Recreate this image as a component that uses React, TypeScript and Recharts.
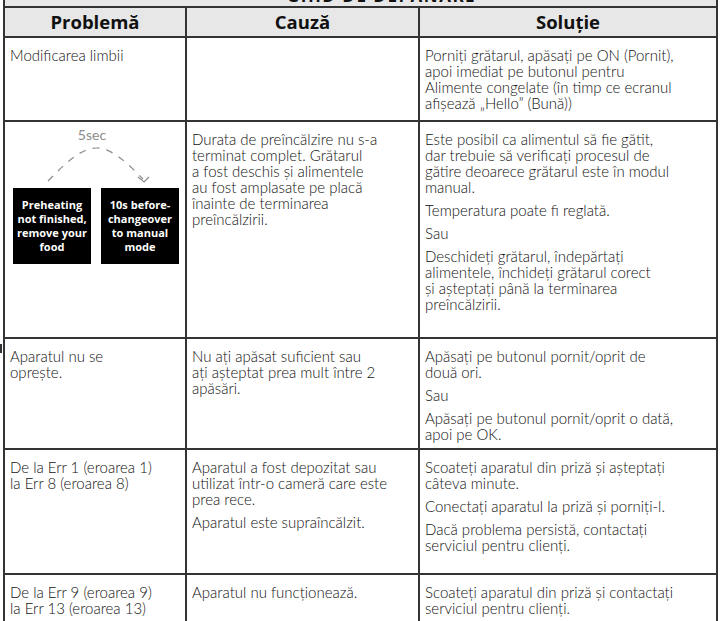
import { Surface, Curve } from 'recharts'

// table content, one entry per row; each cell is a list of paragraphs, each paragraph a list of lines
const title = 'GHID DE DEPANARE'
const columns = ['Problemă', 'Cauză', 'Soluție']

const problems: string[][][] = [
  [['Modificarea limbii']],
  [],
  [['Aparatul nu se', 'oprește.']],
  [['De la Err 1 (eroarea 1)', 'la Err 8 (eroarea 8)']],
  [['De la Err 9 (eroarea 9)', 'la Err 13 (eroarea 13)']]
]

const causes: string[][][] = [
  [],
  [['Durata de preîncălzire nu s-a', 'terminat complet. Grătarul', 'a fost deschis și alimentele', 'au fost amplasate pe placă', 'înainte de terminarea', 'preîncălzirii.']],
  [['Nu ați apăsat suficient sau', 'ați așteptat prea mult între 2', 'apăsări.']],
  [['Aparatul a fost depozitat sau', 'utilizat într-o cameră care este', 'prea rece.'], ['Aparatul este supraîncălzit.']],
  [['Aparatul nu funcționează.']]
]

const solutions: string[][][] = [
  [['Porniți grătarul, apăsați pe ON (Pornit),', 'apoi imediat pe butonul pentru', 'Alimente congelate (în timp ce ecranul', 'afișează „Hello” (Bună))']],
  [
    ['Este posibil ca alimentul să fie gătit,', 'dar trebuie să verificați procesul de', 'gătire deoarece grătarul este în modul', 'manual.'],
    ['Temperatura poate fi reglată.'],
    ['Sau'],
    ['Deschideți grătarul, îndepărtați', 'alimentele, închideți grătarul corect', 'și așteptați până la terminarea', 'preîncălzirii.']
  ],
  [['Apăsați pe butonul pornit/oprit de', 'două ori.'], ['Sau'], ['Apăsați pe butonul pornit/oprit o dată,', 'apoi pe OK.']],
  [['Scoateți aparatul din priză și așteptați', 'câteva minute.'], ['Conectați aparatul la priză și porniți-l.'], ['Dacă problema persistă, contactați', 'serviciul pentru clienți.']],
  [['Scoateți aparatul din priză și contactați', 'serviciul pentru clienți.']]
]

const screens = [
  ['Preheating', 'not finished,', 'remove your', 'food'],
  ['10s before-', 'changeover', 'to manual', 'mode']
]
const delayLabel = '5sec'

// layout
const colEdges = [4, 186, 419, 717]
const rowEdges = [37, 121, 338, 449, 574, 660]
const lineColor = '#333'
const textFont = 'Lato, "Open Sans", sans-serif'

function Cell({ paras, x, y }: { paras: string[][]; x: number; y: number }) {
  return (
    <div style={{ position: 'absolute', left: x, top: y, fontFamily: textFont, fontWeight: 300, fontSize: 15, lineHeight: '16px', color: '#111', whiteSpace: 'nowrap' }}>
      {paras.map((p, i) => (
        <div key={i} style={{ marginTop: i === 0 ? 0 : 7 }}>
          {p.map((l, j) => <div key={j}>{l}</div>)}
        </div>
      ))}
    </div>
  )
}

function DelayArrow() {
  return (
    <Surface width={180} height={70} style={{ position: 'absolute', left: 0, top: 0 }}>
      <text x={88} y={19} textAnchor="middle" fontFamily={textFont} fontSize={14} fill="#8c8c8c">{delayLabel}</text>
      <Curve
        type="natural"
        points={[{ x: 44, y: 60 }, { x: 92, y: 27 }, { x: 139, y: 58 }]}
        stroke="#8c8c8c"
        strokeWidth={1.2}
        strokeDasharray="7 7"
        fill="none"
      />
      <polyline points="134,56 140,61 145,56" stroke="#8c8c8c" strokeWidth={1.2} fill="none" />
    </Surface>
  )
}

export default function App() {
  const rows = problems.map((_, i) => [problems[i], causes[i], solutions[i]])
  return (
    <div style={{ position: 'fixed', left: 0, top: 0, width: 720, height: 621, overflow: 'hidden', background: '#fff' }}>
      <div style={{ position: 'absolute', left: colEdges[0], top: -20, width: colEdges[3] - colEdges[0], height: rowEdges[0] + 20, background: '#e7e7e7' }} />
      <div style={{ position: 'absolute', left: 283, width: 197, top: -13, textAlign: 'center', fontFamily: '"Open Sans", sans-serif', fontWeight: 700, fontSize: 17, lineHeight: '17px', color: '#111', letterSpacing: 1.5 }}>
        {title}
      </div>
      {columns.map((c, i) => (
        <div key={c} style={{ position: 'absolute', left: colEdges[i], width: colEdges[i + 1] - colEdges[i], top: 7, height: 30, lineHeight: '30px', textAlign: 'center', fontFamily: '"Open Sans", sans-serif', fontWeight: 700, fontSize: 18.5, color: '#111' }}>
          {c}
        </div>
      ))}
      {rows.map((cells, r) =>
        cells.map((paras, c) => (
          <Cell key={r + '-' + c} paras={paras} x={colEdges[c] + 6} y={rowEdges[r] + 10} />
        ))
      )}
      <div style={{ position: 'absolute', left: colEdges[0], top: rowEdges[1] }}>
        <DelayArrow />
        {screens.map((s, i) => (
          <div key={i} style={{ position: 'absolute', left: 9 + i * 88, top: 67, width: 78, height: 76, background: '#000', color: '#fff', fontFamily: '"Open Sans", sans-serif', fontWeight: 700, fontSize: 11, lineHeight: '14px', textAlign: 'center', display: 'flex', flexDirection: 'column', justifyContent: 'center' }}>
            {s.map((l, j) => <div key={j}>{l}</div>)}
          </div>
        ))}
      </div>
      {[7, ...rowEdges.slice(0, 5)].map((y, i) => (
        <div key={'h' + i} style={{ position: 'absolute', left: colEdges[0], width: colEdges[3] - colEdges[0], top: y - 1, height: 1.5, background: lineColor }} />
      ))}
      {colEdges.map((x, i) => (
        <div key={'v' + i} style={{ position: 'absolute', left: x - 1, top: i === 1 || i === 2 ? 7 : -10, width: 1.5, height: 700, background: lineColor }} />
      ))}
      <div style={{ position: 'absolute', left: 0, top: 344, width: 1.5, height: 9, background: lineColor }} />
    </div>
  )
}
